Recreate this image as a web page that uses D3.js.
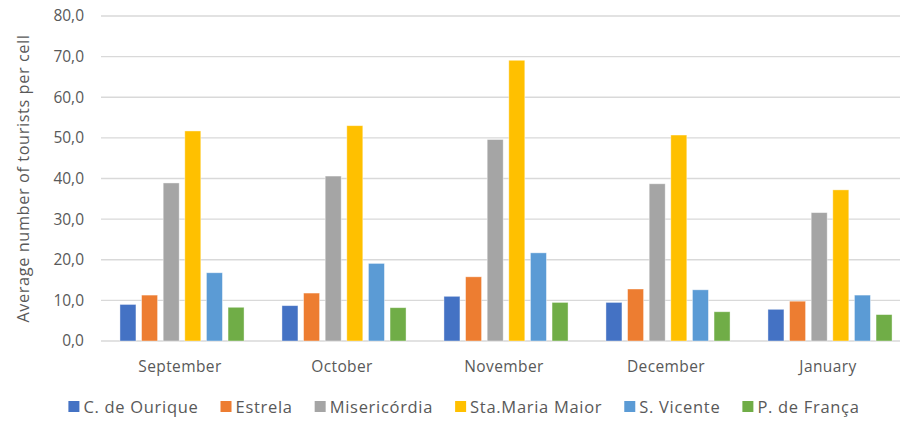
<!DOCTYPE html>
<html>
<head>
<meta charset="utf-8">
<script src="https://cdn.jsdelivr.net/npm/d3@7"></script>
<style>
  body { margin: 0; background: #fff; }
  svg { display: block; font-family: "Open Sans", sans-serif; }
  .tick text { fill: #595959; }
</style>
</head>
<body>
<div id="chart"></div>
<script>
// data
const months = ['September', 'October', 'November', 'December', 'January']
const parishes = ['C. de Ourique', 'Estrela', 'Misericórdia', 'Sta.Maria Maior', 'S. Vicente', 'P. de França']
const cDeOurique = [9.0, 8.7, 11.0, 9.5, 7.8]
const estrela = [11.3, 11.8, 15.8, 12.8, 9.8]
const misericordia = [38.9, 40.6, 49.6, 38.7, 31.6]
const staMariaMaior = [51.7, 53.0, 69.1, 50.7, 37.2]
const sVicente = [16.8, 19.1, 21.7, 12.6, 11.3]
const pDeFranca = [8.3, 8.2, 9.5, 7.2, 6.5]
const yTicks = [0, 10, 20, 30, 40, 50, 60, 70, 80]

const seriesValues = [cDeOurique, estrela, misericordia, staMariaMaior, sVicente, pDeFranca]
const colors = ['#4472C4', '#ED7D31', '#A5A5A5', '#FFC000', '#5B9BD5', '#70AD47']

const width = 900, height = 422
const margin = {top: 16, left: 101, bottom: 81}

let svg = d3.select('#chart').append('svg')
  .attr('width', width)
  .attr('height', height)

// plot runs off the right edge in the original picture
let x0 = d3.scaleBand()
  .domain(months)
  .range([margin.left, 911])
  .paddingInner(0.234)
  .paddingOuter(0.117)

let x1 = d3.scaleBand()
  .domain(parishes)
  .range([0, x0.bandwidth()])
  .paddingInner(0.26)

let y = d3.scaleLinear()
  .domain([0, 80])
  .range([height - margin.bottom, margin.top])

// gridlines
svg.append('g')
  .selectAll('line')
  .data(yTicks)
  .enter()
  .append('line')
  .attr('x1', margin.left)
  .attr('x2', width)
  .attr('y1', d => y(d))
  .attr('y2', d => y(d))
  .attr('stroke', '#d9d9d9')
  .attr('stroke-width', 1.3)

// y axis labels
let yAxis = svg.append('g')
  .attr('transform', `translate(${margin.left},0)`)
  .call(d3.axisLeft(y).tickValues(yTicks).tickSize(0).tickPadding(17)
    .tickFormat(d => d.toFixed(1).replace('.', ',')))
yAxis.select('.domain').remove()
yAxis.selectAll('text').attr('font-size', 15.5).attr('font-family', '"Open Sans", sans-serif')

// bars
let rows = months.map((m, i) => ({month: m, vals: parishes.map((p, j) => ({parish: p, value: seriesValues[j][i], color: colors[j]}))}))

let groups = svg.append('g')
  .selectAll('g')
  .data(rows)
  .enter()
  .append('g')
  .attr('transform', d => `translate(${x0(d.month)},0)`)

groups.selectAll('rect')
  .data(d => d.vals)
  .enter()
  .append('rect')
  .attr('x', d => x1(d.parish))
  .attr('width', x1.bandwidth())
  .attr('y', d => y(d.value))
  .attr('height', d => y(0) - y(d.value))
  .attr('fill', d => d.color)
  .attr('stroke', '#fff')
  .attr('stroke-opacity', 0.5)
  .attr('stroke-width', 0.8)

// x axis labels
let xAxis = svg.append('g')
  .attr('transform', `translate(0,${y(0)})`)
  .call(d3.axisBottom(x0).tickSize(0).tickPadding(20))
xAxis.select('.domain').remove()
xAxis.selectAll('text').attr('font-size', 15.5).attr('letter-spacing', 0.4)
  .attr('font-family', '"Open Sans", sans-serif').attr('dx', -2)

// y axis title
svg.append('text')
  .attr('transform', `translate(29,${(y(0) + y(80)) / 2}) rotate(-90)`)
  .attr('text-anchor', 'middle')
  .attr('font-size', 16.3)
  .attr('letter-spacing', 0.6)
  .attr('fill', '#595959')
  .text('Average number of tourists per cell')

// legend, laid out from measured text widths
let legend = svg.append('g')
  .attr('transform', `translate(0,${height - 9})`)

let items = legend.selectAll('g')
  .data(parishes)
  .enter()
  .append('g')

items.append('rect')
  .attr('y', -12)
  .attr('width', 11)
  .attr('height', 11)
  .attr('fill', (d, i) => colors[i])

items.append('text')
  .attr('x', 15)
  .attr('y', 0)
  .attr('font-size', 16.5)
  .attr('letter-spacing', 0.7)
  .attr('fill', '#595959')
  .text(d => d)

let gap = 22
let widths = []
items.each(function () { widths.push(15 + this.querySelector('text').getComputedTextLength()) })
let total = d3.sum(widths) + gap * (widths.length - 1)
let cursor = 464 - total / 2
items.attr('transform', (d, i) => {
  let t = `translate(${cursor},0)`
  cursor += widths[i] + gap
  return t
})
</script>
</body>
</html>
